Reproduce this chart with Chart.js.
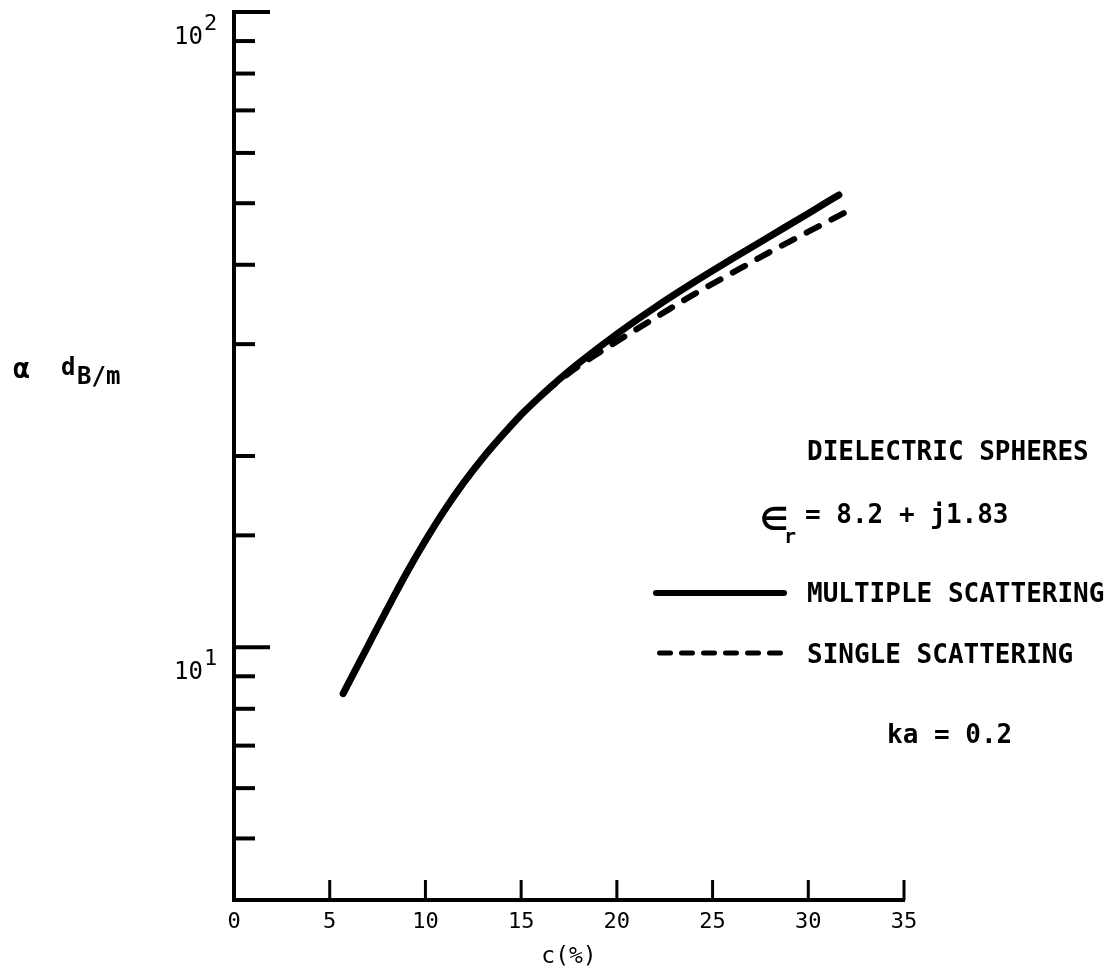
<!DOCTYPE html>
<html lang="en">
  <head>
    <meta charset="UTF-8" />
    <meta name="viewport" content="width=device-width, initial-scale=1.0" />
    <title>Attenuation of dielectric spheres</title>
    <script src="https://cdn.jsdelivr.net/npm/chart.js"></script>
    <style>
      html,
      body {
        margin: 0;
        padding: 0;
        background: #fff;
      }
      .chart-box {
        position: relative;
        width: 1114px;
        height: 976px;
      }
    </style>
  </head>
  <body>
    <div class="chart-box">
      <canvas id="attenuationChart"></canvas>
    </div>

    <script>
      // concentration c (%) and attenuation (dB/m)
      const multipleC = [5.7, 7, 8, 9, 10, 11, 12, 13, 14, 15, 16, 17, 18, 20, 22, 24, 26, 28, 30, 31.6];
      const multipleAlpha = [8.45, 10.05, 11.48, 13.06, 14.72, 16.44, 18.16, 19.86, 21.53, 23.23, 24.83, 26.42, 27.99, 31.12, 34.28, 37.5, 40.83, 44.36, 48.19, 51.52];

      const singleC = [5.7, 7, 8, 9, 10, 11, 12, 13, 14, 15, 16, 17, 18, 20, 22, 24, 26, 28, 30, 32];
      const singleAlpha = [8.45, 10.05, 11.48, 13.06, 14.72, 16.44, 18.16, 19.86, 21.53, 23.2, 24.8, 26.3, 27.7, 30.3, 33.0, 35.9, 38.8, 41.9, 45.1, 48.5];

      const xTicks = [0, 5, 10, 15, 20, 25, 30, 35];
      const yMajor = [10, 100];
      const yExponents = ["1", "2"];

      const seriesNames = ["MULTIPLE SCATTERING", "SINGLE SCATTERING"];
      const noteLines = ["DIELECTRIC SPHERES", "= 8.2 + j1.83", "ka = 0.2"];

      const mono = "'DejaVu Sans Mono', 'Liberation Mono', monospace";
      const labelDrop = 26;

      function toPoints(xs, ys) {
        return xs.map((x, i) => ({ x: x, y: ys[i] }));
      }

      // tick marks pointing into the plot, exponents, legend and notes
      const paperMarks = {
        id: "paperMarks",
        afterDraw(chart) {
          const { ctx, chartArea } = chart;
          const xs = chart.scales.x;
          const ys = chart.scales.y;
          ctx.save();
          ctx.strokeStyle = "#000";
          ctx.fillStyle = "#000";

          ctx.lineWidth = 4;
          ys.ticks.forEach((t) => {
            if (t.value <= ys.min) return;
            const len = yMajor.includes(t.value) ? 36 : 21;
            const py = ys.getPixelForValue(t.value);
            ctx.beginPath();
            ctx.moveTo(chartArea.left, py);
            ctx.lineTo(chartArea.left + len, py);
            ctx.stroke();
          });

          ctx.lineWidth = 3;
          xs.ticks.forEach((t) => {
            if (t.value <= xs.min) return;
            const px = xs.getPixelForValue(t.value);
            ctx.beginPath();
            ctx.moveTo(px, chartArea.bottom);
            ctx.lineTo(px, chartArea.bottom - 20);
            ctx.stroke();
          });

          // exponents of the 10^n labels
          ctx.textBaseline = "alphabetic";
          ctx.textAlign = "left";
          ctx.font = "22px " + mono;
          yMajor.forEach((v, i) => {
            const py = ys.getPixelForValue(v) + labelDrop;
            ctx.fillText(yExponents[i], 204, py - 8);
          });

          // y axis name, typed sideways on the page
          ctx.font = "bold 28px " + mono;
          ctx.fillText("\u03b1", 13, 378);
          ctx.font = "bold 24px " + mono;
          ctx.fillText("d", 61, 375);
          ctx.fillText("B/m", 77, 384);

          // notes
          ctx.font = "bold 26px " + mono;
          ctx.fillText(noteLines[0], 807, 460);
          ctx.font = "bold 32px 'DejaVu Sans', sans-serif";
          ctx.fillText("\u2208", 760, 530);
          ctx.font = "bold 20px " + mono;
          ctx.fillText("r", 784, 543);
          ctx.font = "bold 26px " + mono;
          ctx.fillText(noteLines[1], 805, 523);
          ctx.fillText(noteLines[2], 887, 743);

          // legend
          const rows = [
            { y: 593, x0: 653, x1: 787, text: 602 },
            { y: 653, x0: 657, x1: 783, text: 663 },
          ];
          chart.data.datasets.forEach((ds, i) => {
            const r = rows[i];
            const w = ds.borderWidth - 1;
            ctx.save();
            ctx.lineWidth = w;
            ctx.lineCap = ds.borderCapStyle;
            ctx.setLineDash(ds.borderDash ? [11, 11] : []);
            ctx.beginPath();
            ctx.moveTo(r.x0 + w / 2, r.y);
            ctx.lineTo(r.x1 - w / 2, r.y);
            ctx.stroke();
            ctx.restore();
            ctx.fillText(seriesNames[i], 807, r.text);
          });

          ctx.restore();
        },
      };

      const ctx = document.getElementById("attenuationChart").getContext("2d");
      const chart = new Chart(ctx, {
        type: "line",
        data: {
          datasets: [
            {
              label: seriesNames[0],
              data: toPoints(multipleC, multipleAlpha),
              borderColor: "#000",
              borderWidth: 7,
              borderCapStyle: "round",
              borderJoinStyle: "round",
              pointRadius: 0,
              cubicInterpolationMode: "monotone",
              fill: false,
            },
            {
              label: seriesNames[1],
              data: toPoints(singleC, singleAlpha),
              borderColor: "#000",
              borderWidth: 6,
              borderDash: [14, 14],
              borderCapStyle: "round",
              borderJoinStyle: "round",
              pointRadius: 0,
              cubicInterpolationMode: "monotone",
              fill: false,
            },
          ],
        },
        options: {
          responsive: true,
          maintainAspectRatio: false,
          animation: false,
          layout: {
            padding: { top: 12, right: 210, left: 0, bottom: 0 },
          },
          plugins: {
            legend: { display: false },
            tooltip: { enabled: false },
          },
          scales: {
            x: {
              type: "linear",
              min: 0,
              max: 35,
              afterBuildTicks(scale) {
                scale.ticks = xTicks.map((v) => ({ value: v }));
              },
              afterFit(scale) {
                scale.height = 76;
              },
              grid: { display: false, drawTicks: false },
              border: { display: true, color: "#000", width: 4 },
              ticks: {
                color: "#000",
                font: { family: mono, size: 22 },
                padding: 9,
                maxRotation: 0,
                autoSkip: false,
              },
              title: {
                display: true,
                text: "c(%)",
                color: "#000",
                font: { family: mono, size: 23 },
                padding: { top: 0, bottom: 5 },
              },
            },
            y: {
              type: "logarithmic",
              min: 4,
              max: 100,
              afterFit(scale) {
                scale.width = 234;
                scale.paddingTop = 0;
                scale.paddingBottom = 0;
              },
              grid: { display: false, drawTicks: false },
              border: { display: true, color: "#000", width: 4 },
              ticks: {
                color: "#000",
                font: { family: mono, size: 24 },
                padding: 31,
                labelOffset: labelDrop,
                autoSkip: false,
                callback: (v) => (yMajor.includes(v) ? "10" : ""),
              },
            },
          },
        },
        plugins: [paperMarks],
      });
    </script>
  </body>
</html>
